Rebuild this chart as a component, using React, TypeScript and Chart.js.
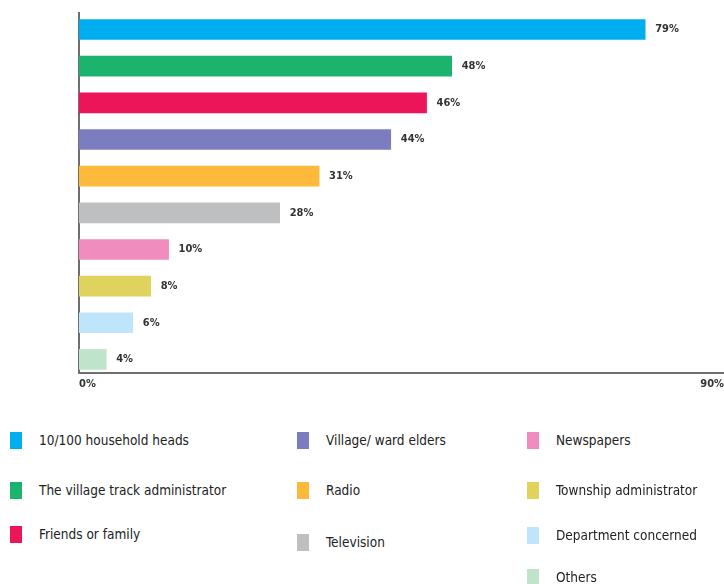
import React, { useEffect, useRef } from "react";
import { Chart, registerables } from "chart.js";

Chart.register(...registerables);

const categories = [
  "10/100 household heads",
  "The village track administrator",
  "Friends or family",
  "Village/ ward elders",
  "Radio",
  "Television",
  "Newspapers",
  "Township administrator",
  "Department concerned",
  "Others",
];
const barValues = [79, 52, 48.5, 43.5, 33.5, 28, 12.5, 10, 7.5, 3.8];
const valueLabels = ["79%", "48%", "46%", "44%", "31%", "28%", "10%", "8%", "6%", "4%"];
const colors = [
  "#00AEEF",
  "#1BB36E",
  "#EC1559",
  "#7B7DC0",
  "#FDB93A",
  "#BEBFC1",
  "#F18DBE",
  "#E0D35D",
  "#BEE5FA",
  "#BFE3CB",
];
const xMin = 0;
const xMax = 90;
const xTickValues = [0, 90];
const xTickLabels = ["0%", "90%"];
// category index range shown on the vertical axis (top gap / bottom gap)
const yMin = -0.45;
const yMax = 9.37;

const FONT = "'DejaVu Sans Condensed', 'DejaVu Sans', sans-serif";

// legend layout: column index per category
const legendColumns = [0, 0, 0, 1, 1, 1, 2, 2, 2, 2];
const colX = [10, 297, 527];
const rowY = [
  [440, 490, 534],
  [440, 490, 542],
  [440, 490, 535, 577],
];

const labelPlugin = {
  id: "valueLabels",
  afterDatasetsDraw(chart: any) {
    const ctx = chart.ctx;
    const meta = chart.getDatasetMeta(0);
    ctx.save();
    ctx.font = `bold 11px ${FONT}`;
    ctx.fillStyle = "#333";
    ctx.textBaseline = "middle";
    ctx.textAlign = "left";
    meta.data.forEach((bar: any, i: number) => {
      ctx.fillText(valueLabels[i], bar.x + 10, bar.y);
    });
    const xs = chart.scales.x;
    const yb = chart.chartArea.bottom + 11;
    xTickValues.forEach((v, i) => {
      const px = xs.getPixelForValue(v);
      ctx.textAlign = i === 0 ? "left" : "right";
      ctx.fillText(xTickLabels[i], i === 0 ? px : Math.min(px, chart.width), yb);
    });
    ctx.restore();
  },
};

export default function App() {
  const ref = useRef<HTMLCanvasElement>(null);
  useEffect(() => {
    document.body.style.margin = "0";
    const chart = new Chart(ref.current!, {
      type: "bar",
      data: {
        labels: categories,
        datasets: [
          {
            data: barValues.map((v, i) => ({ x: v, y: i })),
            backgroundColor: colors,
            barThickness: 20,
          },
        ],
      },
      options: {
        indexAxis: "y",
        animation: false,
        responsive: false,
        maintainAspectRatio: false,
        layout: { padding: { left: 79, right: 0, top: 13, bottom: 23 } },
        plugins: { legend: { display: false }, tooltip: { enabled: false } },
        scales: {
          x: {
            min: xMin,
            max: xMax,
            grid: { display: false, drawTicks: false },
            border: { display: true, color: "#6f6f6f", width: 2 },
            ticks: { display: false },
          },
          y: {
            type: "linear",
            reverse: true,
            offset: false,
            min: yMin,
            max: yMax,
            grid: { display: false, drawTicks: false, offset: false },
            border: { display: true, color: "#6f6f6f", width: 2 },
            ticks: { display: false },
          },
        },
      },
      plugins: [labelPlugin],
    });
    return () => chart.destroy();
  }, []);

  return (
    <div style={{ position: "fixed", left: 0, top: 0, width: 724, height: 584, background: "#fff", fontFamily: FONT }}>
      <canvas ref={ref} width={724} height={396} style={{ position: "absolute", left: 0, top: 0 }} />
      {categories.map((c, i) => {
        const col = legendColumns[i];
        const row = legendColumns.slice(0, i).filter((k) => k === col).length;
        const y = rowY[col][row];
        return (
          <div key={c} style={{ position: "absolute", left: colX[col], top: y - 9, height: 18, display: "flex", alignItems: "center" }}>
            <div style={{ width: 12, height: 17, background: colors[i] }} />
            <span style={{ marginLeft: 17, fontSize: 13.5, color: "#222", whiteSpace: "nowrap" }}>{c}</span>
          </div>
        );
      })}
    </div>
  );
}
